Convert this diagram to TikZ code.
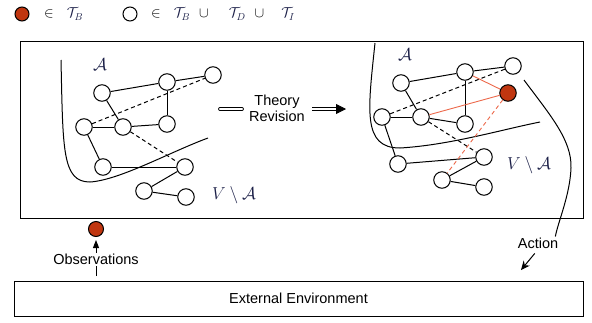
\documentclass[tikz,border=0pt]{standalone}
\usepackage{fontspec}
\setsansfont{Liberation Sans}
\usepackage{xcolor}
\usepackage{tikz}
\usetikzlibrary{arrows.meta}

\definecolor{revred}{RGB}{192,54,16}
\definecolor{revorange}{RGB}{236,104,74}
\definecolor{setnavy}{RGB}{28,32,72}

\begin{document}
\begin{tikzpicture}[
  x=1pt, y=-1pt,
  vtx/.style={circle, draw, line width=1pt, minimum size=16.5pt, inner sep=0pt, fill=white},
  hit/.style={vtx, fill=revred},
  link/.style={line width=1pt},
  guess/.style={link, dash pattern=on 4pt off 3pt},
  newlink/.style={line width=0.9pt, draw=revorange},
  newguess/.style={newlink, dash pattern=on 4pt off 3pt},
  frame/.style={draw, line width=1pt},
  sflbl/.style={font=\sffamily\fontsize{14.5}{16}\selectfont, inner sep=1pt},
  setlbl/.style={text=setnavy, font=\fontsize{18}{20}\selectfont, inner sep=0pt},
  keylbl/.style={anchor=west, inner sep=0pt, font=\fontsize{14.5}{15}\selectfont},
  dbl/.style={line width=0.8pt, double, double distance=2.2pt},
  arr/.style={link, -{Stealth[length=9pt, width=8pt]}}
]
\useasboundingbox (0,0) rectangle (592,322);

% legend
\node[hit, minimum size=14pt] (keyhit) at (22,14) {};
\node[keylbl] (keyhittxt) at (44,14) {$\in$\hspace{13pt}\textcolor{setnavy}{$\mathcal{T}_B$}};
\node[vtx, minimum size=14pt] (keyany) at (130,14) {};
\node[keylbl] (keyanytxt) at (151,14) {$\in$\hspace{13pt}\textcolor{setnavy}{$\mathcal{T}_B$}\hspace{9pt}$\cup$\hspace{20pt}\textcolor{setnavy}{$\mathcal{T}_D$}\hspace{9pt}$\cup$\hspace{17pt}\textcolor{setnavy}{$\mathcal{T}_I$}};

% frames
\draw[frame] (20,41) rectangle (583,218);
\node[frame, sflbl, minimum width=569pt, minimum height=35pt] (env) at (298.5,298.5) {External Environment};

% theory before revision
\node[setlbl] (leftA) at (100,65) {$\mathcal{A}$};
\node[setlbl] (leftVA) at (234,195) {$V\setminus\mathcal{A}$};
\draw[link] (61,60) .. controls (63,150) and (62,182) .. (90,182)
  .. controls (120,180) and (170,152) .. (208,138);
\node[vtx] (a1) at (102,93) {};
\node[vtx] (a2) at (167,82) {};
\node[vtx] (a3) at (213,75) {};
\node[vtx] (a4) at (84,127) {};
\node[vtx] (a5) at (123,127) {};
\node[vtx] (a6) at (167,124) {};
\node[vtx] (a7) at (103,167) {};
\node[vtx] (a8) at (185,167) {};
\node[vtx] (a9) at (144,191) {};
\node[vtx] (a10) at (186,197) {};
\draw[link] (a1) -- (a2);
\draw[link] (a2) -- (a3);
\draw[link] (a1) -- (a5);
\draw[link] (a2) -- (a6);
\draw[link] (a4) -- (a5);
\draw[link] (a5) -- (a6);
\draw[link] (a4) -- (a7);
\draw[link] (a7) -- (a8);
\draw[link] (a8) -- (a9);
\draw[link] (a9) -- (a10);
\draw[guess] (a4) -- (a3);
\draw[guess] (a5) -- (a8);

% revision step
\node[sflbl, align=center, inner xsep=7pt] (rev) at (277,108) {Theory\\Revision};
\coordinate (revin) at (220,109);
\coordinate (revout) at (346,109);
\draw[dbl, line cap=round] (revin) -- (rev.west |- revin);
\draw[dbl, -{Triangle[length=10pt, width=10pt]}] (rev.east |- revout) -- (revout);

% theory after revision
\node[setlbl] (rightA) at (405,55) {$\mathcal{A}$};
\node[setlbl] (rightVA) at (529,165) {$V\setminus\mathcal{A}$};
\draw[link] (375,43) .. controls (368,110) and (362,148) .. (400,148)
  .. controls (450,145) and (500,130) .. (540,122);
\node[vtx] (b1) at (401,83) {};
\node[vtx] (b2) at (465,72) {};
\node[vtx] (b3) at (513,66) {};
\node[hit] (bnew) at (508,93) {};
\node[vtx] (b4) at (382,117) {};
\node[vtx] (b5) at (421,117) {};
\node[vtx] (b6) at (465,124) {};
\node[vtx] (b7) at (398,164) {};
\node[vtx] (b8) at (484,157) {};
\node[vtx] (b9) at (442,180) {};
\node[vtx] (b10) at (484,187) {};
\draw[link] (b1) -- (b2);
\draw[link] (b2) -- (b3);
\draw[link] (b1) -- (b5);
\draw[link] (b2) -- (b6);
\draw[link] (b4) -- (b5);
\draw[link] (b5) -- (b6);
\draw[link] (b4) -- (b7);
\draw[link] (b7) -- (b8);
\draw[link] (b8) -- (b9);
\draw[link] (b9) -- (b10);
\draw[guess] (b4) -- (b3);
\draw[guess] (b5) -- (b8);
\draw[newlink] (b2) -- (bnew);
\draw[newlink] (b5) -- (bnew);
\draw[newguess] (bnew) -- (b9);

% action
\coordinate (actsrc) at (524,80);
\node[sflbl] (act) at (538,243) {Action};
\draw[link] (actsrc) .. controls (550,115) and (572,140) .. (571,168)
  .. controls (570,195) and (558,222) .. ([xshift=-4pt]act.north east);
\coordinate (actend) at (521,270);
\draw[arr, shorten <=5pt] (act.south) -- (actend);

% observations
\node[hit, minimum size=15pt] (obsdot) at (96,229) {};
\coordinate (obsfoot) at (96,276);
\draw[link, -{Triangle[length=8pt, width=6pt]}, shorten >=3pt] (obsfoot) -- node[sflbl, fill=white, pos=0.42] (obs) {Observations} (obsdot);
\end{tikzpicture}
\end{document}
